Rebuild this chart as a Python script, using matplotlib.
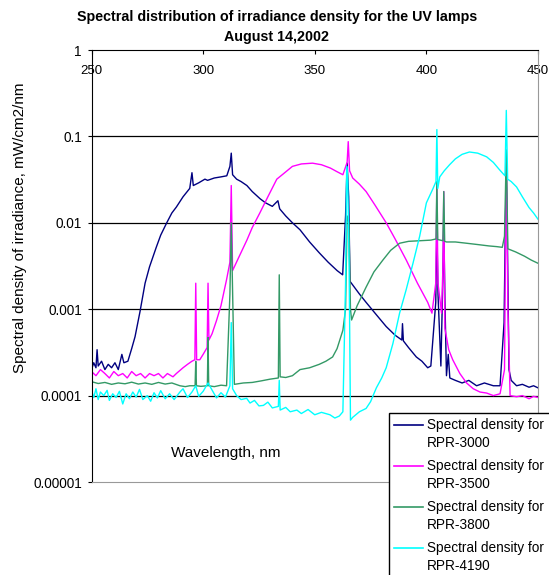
"""Spectral distribution of irradiance density for the UV lamps."""

import matplotlib

matplotlib.use("Agg")
import matplotlib.pyplot as plt
from matplotlib.lines import Line2D
from matplotlib.patches import Rectangle
from matplotlib.ticker import NullLocator

plt.rcParams["font.family"] = ["Liberation Sans", "DejaVu Sans"]

# ---- data (wavelength nm, mW/cm2/nm) ----
wl_3000 = [250, 251, 252, 252.5, 253, 254.5, 256, 257.5, 259, 260.5, 262, 263.6, 264.5,
           266.3, 268, 269.5, 271.7, 274, 276, 279, 281, 283.7, 286, 288, 291, 294, 295,
           295.6, 298, 300.8, 302, 305, 308, 310.6, 312, 312.6, 313.2, 315, 317, 319.6,
           322, 325.5, 328, 331, 333.5, 334.3, 337, 340, 343.4, 347.7, 352, 356, 360,
           362.5, 363.8, 364.5, 365.2, 365.8, 370, 373, 377, 382, 386, 389, 389.3, 389.7,
           392, 395.5, 398, 400.6, 402, 404.2, 404.7, 405.2, 406.5, 407.3, 407.8, 408.3,
           409, 409.8, 410.5, 413, 416, 419, 422.5, 426, 430, 433, 434.8, 435.4, 435.8,
           436.3, 437, 438, 440.4, 443, 446, 448, 450]
sd_3000 = [2.0e-4, 2.4e-4, 2.1e-4, 3.4e-4, 2.2e-4, 2.5e-4, 2.0e-4, 2.3e-4, 2.1e-4, 2.4e-4,
           2.0e-4, 3.0e-4, 2.4e-4, 2.5e-4, 3.5e-4, 4.8e-4, 9.3e-4, 2.0e-3, 3.1e-3, 5.2e-3,
           7.2e-3, 0.010, 0.013, 0.0152, 0.020, 0.025, 0.038, 0.027, 0.029, 0.032, 0.031,
           0.033, 0.034, 0.035, 0.045, 0.064, 0.036, 0.032, 0.030, 0.027, 0.023, 0.019,
           0.017, 0.0155, 0.018, 0.0145, 0.012, 0.010, 0.0083, 0.006, 0.0045, 0.0035, 0.0028,
           0.0025, 0.012, 0.049, 0.020, 0.0021, 0.0015, 0.0012, 9.0e-4, 6.3e-4, 5.0e-4,
           4.4e-4, 6.8e-4, 4.3e-4, 3.6e-4, 2.8e-4, 2.5e-4, 2.1e-4, 2.2e-4, 1.2e-3, 0.009,
           1.5e-3, 2.2e-4, 1.8e-3, 0.0094, 1.3e-3, 1.7e-4, 3.0e-4, 1.6e-4, 1.5e-4, 1.4e-4,
           1.5e-4, 1.3e-4, 1.4e-4, 1.3e-4, 1.3e-4, 7.0e-4, 0.010, 0.040, 0.006, 2.0e-4,
           1.5e-4, 1.3e-4, 1.35e-4, 1.25e-4, 1.3e-4, 1.23e-4]

wl_3500 = [250, 252, 254, 256, 258, 260, 262, 264, 266, 268, 270, 272, 274, 276, 278, 280,
           282, 284, 286.5, 288, 291, 293, 295, 296.3, 296.7, 297.1, 298.5, 300, 301.8,
           302.2, 302.6, 304, 306, 308, 310.5, 312, 312.6, 313.2, 316, 319.6, 322, 325.4,
           329, 333, 336, 340, 344, 349, 353, 357, 360, 362.6, 364.5, 365, 365.6, 367, 370,
           373, 377, 382, 386, 391, 396, 400.6, 402.5, 404.2, 404.7, 405.2, 406.8, 407.4,
           407.8, 408.3, 410, 411.8, 415, 418, 421, 424, 427, 430, 433, 435, 435.8, 436.5,
           437.5, 440.4, 443, 446, 448, 450]
sd_3500 = [1.9e-4, 1.7e-4, 2.0e-4, 1.8e-4, 1.6e-4, 1.9e-4, 1.7e-4, 1.8e-4, 1.6e-4, 1.9e-4,
           1.7e-4, 1.8e-4, 1.6e-4, 1.8e-4, 1.7e-4, 1.8e-4, 1.6e-4, 1.8e-4, 1.65e-4, 1.8e-4,
           2.1e-4, 2.3e-4, 2.5e-4, 2.6e-4, 0.002, 2.6e-4, 2.6e-4, 3.0e-4, 3.6e-4, 0.002,
           4.4e-4, 5.2e-4, 7.4e-4, 1.1e-3, 2.2e-3, 3.5e-3, 0.027, 2.8e-3, 4.0e-3, 6.3e-3,
           8.8e-3, 0.013, 0.020, 0.032, 0.037, 0.045, 0.048, 0.049, 0.047, 0.043, 0.039,
           0.036, 0.050, 0.087, 0.040, 0.033, 0.028, 0.023, 0.016, 0.010, 6.5e-3, 3.7e-3,
           2.0e-3, 1.2e-3, 9.0e-4, 2.0e-3, 0.026, 2.0e-3, 9.0e-4, 3.0e-3, 0.023, 6.0e-4,
           3.4e-4, 2.6e-4, 1.8e-4, 1.4e-4, 1.2e-4, 1.1e-4, 1.07e-4, 1.0e-4, 1.05e-4, 2.0e-4,
           0.07, 1.1e-3, 1.0e-4, 9.7e-5, 1.0e-4, 9.2e-5, 9.8e-5, 9.5e-5]

wl_3800 = [250, 253, 256, 259, 262, 265, 268, 271, 274, 277, 280, 283, 286, 289.6, 292, 294,
           296.4, 296.7, 297, 299, 301.9, 302.2, 302.5, 305, 308, 310.5, 312, 312.6, 313.2,
           314, 318, 322, 326, 330, 333.7, 334.1, 334.5, 337, 340, 343.4, 347.7, 352, 355,
           358, 360, 362.6, 363.8, 364.5, 365.3, 366, 366.5, 369, 373, 376.5, 380.5, 384,
           388, 392, 397, 402, 404.3, 404.7, 405.1, 407.4, 407.8, 408.2, 409, 413, 418, 423,
           428, 431.5, 434, 435, 435.8, 436.5, 440, 444, 447, 450]
sd_3800 = [1.45e-4, 1.38e-4, 1.42e-4, 1.35e-4, 1.4e-4, 1.37e-4, 1.43e-4, 1.36e-4, 1.4e-4,
           1.35e-4, 1.42e-4, 1.36e-4, 1.4e-4, 1.3e-4, 1.27e-4, 1.3e-4, 1.3e-4, 2.5e-4,
           1.3e-4, 1.28e-4, 1.3e-4, 4.7e-4, 1.3e-4, 1.27e-4, 1.32e-4, 1.3e-4, 1.5e-3, 0.010,
           1.6e-3, 1.35e-4, 1.4e-4, 1.42e-4, 1.48e-4, 1.55e-4, 1.6e-4, 2.5e-3, 1.65e-4,
           1.62e-4, 1.7e-4, 2.0e-4, 2.1e-4, 2.3e-4, 2.5e-4, 2.8e-4, 3.5e-4, 5.7e-4, 1.0e-3,
           0.012, 0.010, 1.0e-3, 7.5e-4, 1.1e-3, 1.8e-3, 2.7e-3, 3.7e-3, 4.8e-3, 5.8e-3,
           6.1e-3, 6.2e-3, 6.3e-3, 6.5e-3, 0.030, 6.4e-3, 6.2e-3, 0.023, 6.1e-3, 6.0e-3,
           6.0e-3, 5.8e-3, 5.6e-3, 5.4e-3, 5.3e-3, 5.2e-3, 7.0e-3, 0.069, 5.0e-3, 4.6e-3,
           4.1e-3, 3.7e-3, 3.4e-3]

wl_4190 = [250, 251, 252, 253, 254, 255.5, 257, 258, 259.5, 261, 262.5, 264, 265.5, 267,
           268.5, 270, 271.5, 273, 275, 276.5, 278, 279.5, 281, 283, 285, 287, 289.6, 291,
           293, 295, 296.7, 298, 300, 302.2, 304.5, 306, 308, 310, 312, 312.6, 313.2, 315,
           317, 319.5, 321, 323, 325, 327, 329, 331, 333.7, 334.1, 334.5, 337, 339, 342,
           344, 347, 350, 353, 356.8, 359, 361, 362.6, 363.8, 364.3, 364.8, 365.4, 366, 367,
           370, 373, 375, 377.6, 380, 382, 385, 388, 391, 394, 397, 400, 403, 404.3, 404.7,
           405.1, 406, 408, 410.4, 413, 416, 419.3, 423, 427, 430, 432.8, 435.2, 435.8,
           436.4, 438, 440.4, 443, 446, 448, 450]
sd_4190 = [1.15e-4, 9.5e-5, 1.2e-4, 9.0e-5, 1.1e-4, 1.0e-4, 1.15e-4, 8.8e-5, 1.05e-4,
           9.5e-5, 1.12e-4, 8.0e-5, 1.05e-4, 9.2e-5, 1.1e-4, 9.6e-5, 1.18e-4, 9.0e-5, 1.0e-4,
           8.6e-5, 1.08e-4, 9.4e-5, 1.14e-4, 9.2e-5, 1.05e-4, 9.0e-5, 1.1e-4, 1.2e-4, 9.5e-5,
           1.1e-4, 1.3e-4, 9.8e-5, 1.12e-4, 1.4e-4, 1.1e-4, 9.4e-5, 1.08e-4, 9.6e-5, 1.3e-4,
           7.0e-4, 1.2e-4, 1.0e-4, 9.0e-5, 9.3e-5, 8.2e-5, 8.8e-5, 7.6e-5, 7.7e-5, 8.4e-5,
           7.2e-5, 7.5e-5, 1.5e-4, 6.8e-5, 7.3e-5, 6.5e-5, 6.8e-5, 6.2e-5, 6.9e-5, 6.0e-5,
           6.4e-5, 6.0e-5, 5.5e-5, 5.8e-5, 6.5e-5, 2.0e-3, 0.045, 0.030, 3.0e-3, 5.2e-5,
           5.6e-5, 6.5e-5, 7.1e-5, 8.5e-5, 1.23e-4, 1.6e-4, 2.1e-4, 4.0e-4, 9.0e-4, 1.7e-3,
           3.4e-3, 7.0e-3, 0.017, 0.025, 0.030, 0.12, 0.025, 0.034, 0.040, 0.047, 0.055,
           0.062, 0.066, 0.064, 0.058, 0.050, 0.041, 0.035, 0.20, 0.032, 0.030, 0.026, 0.020,
           0.015, 0.013, 0.011]

series_names = ["RPR-3000", "RPR-3500", "RPR-3800", "RPR-4190"]
series_colors = ["#000080", "#FF00FF", "#339966", "#00FFFF"]

xtick_vals = [250, 300, 350, 400, 450]
ytick_vals = [1e-5, 1e-4, 1e-3, 1e-2, 1e-1, 1]
ytick_labels = ["0.00001", "0.0001", "0.001", "0.01", "0.1", "1"]

W, H = 549, 575


def fx(px):
    return px / W


def fy(py):
    return 1 - py / H


fig = plt.figure(figsize=(W / 100, H / 100), dpi=100)
ax = fig.add_axes([fx(91.5), fy(482), fx(538) - fx(91.5), fy(50) - fy(482)])

# interior horizontal grid lines
for v in ytick_vals[1:-1]:
    ax.axhline(v, color="black", lw=0.9, zorder=1)

all_wl = [wl_3000, wl_3500, wl_3800, wl_4190]
all_sd = [sd_3000, sd_3500, sd_3800, sd_4190]
for wl, sd, color in zip(all_wl, all_sd, series_colors):
    ax.plot(wl, sd, color=color, lw=1.0, zorder=2)

ax.set_yscale("log")
ax.set_xlim(250, 450)
ax.set_ylim(1e-5, 1)
ax.set_yticks(ytick_vals)
ax.set_yticklabels(ytick_labels)
ax.yaxis.set_minor_locator(NullLocator())
ax.tick_params(axis="y", direction="out", length=3, pad=4, labelsize=9.8)

ax.xaxis.set_ticks_position("top")
ax.set_xticks(xtick_vals)
ax.tick_params(axis="x", direction="in", length=3, pad=-19.5, labelsize=9.5,
               top=True, bottom=False, labeltop=True, labelbottom=False)

ax.spines["left"].set_color("black")
ax.spines["top"].set_color("black")
ax.spines["right"].set_color("#999999")
ax.spines["bottom"].set_color("#999999")

# titles and axis labels
fig.text(fx(277), fy(17), "Spectral distribution of irradiance density for the UV lamps",
         ha="center", va="center", fontsize=10.3, fontweight="bold")
fig.text(fx(277), fy(36.5), "August 14,2002", ha="center", va="center",
         fontsize=10.3, fontweight="bold")
fig.text(fx(20), fy(228), "Spectral density of irradiance, mW/cm2/nm", rotation=90,
         ha="center", va="center", fontsize=11)
fig.text(fx(226), fy(453), "Wavelength, nm", ha="center", va="center", fontsize=11)

# legend box (runs off the lower right corner)
fig.add_artist(Rectangle((fx(389), fy(600)), fx(200), fy(413) - fy(600),
                         transform=fig.transFigure, facecolor="white",
                         edgecolor="black", lw=1.0, zorder=5))
for i, (name, color) in enumerate(zip(series_names, series_colors)):
    y0 = 425 + i * 41
    fig.add_artist(Line2D([fx(394), fx(423)], [fy(y0), fy(y0)], color=color, lw=1.2,
                          transform=fig.transFigure, zorder=6))
    fig.text(fx(427), fy(y0), "Spectral density for", ha="left", va="center",
             fontsize=9.8, zorder=6)
    fig.text(fx(427), fy(y0 + 18), name, ha="left", va="center", fontsize=9.8, zorder=6)

fig.savefig("out.png", dpi=100)
